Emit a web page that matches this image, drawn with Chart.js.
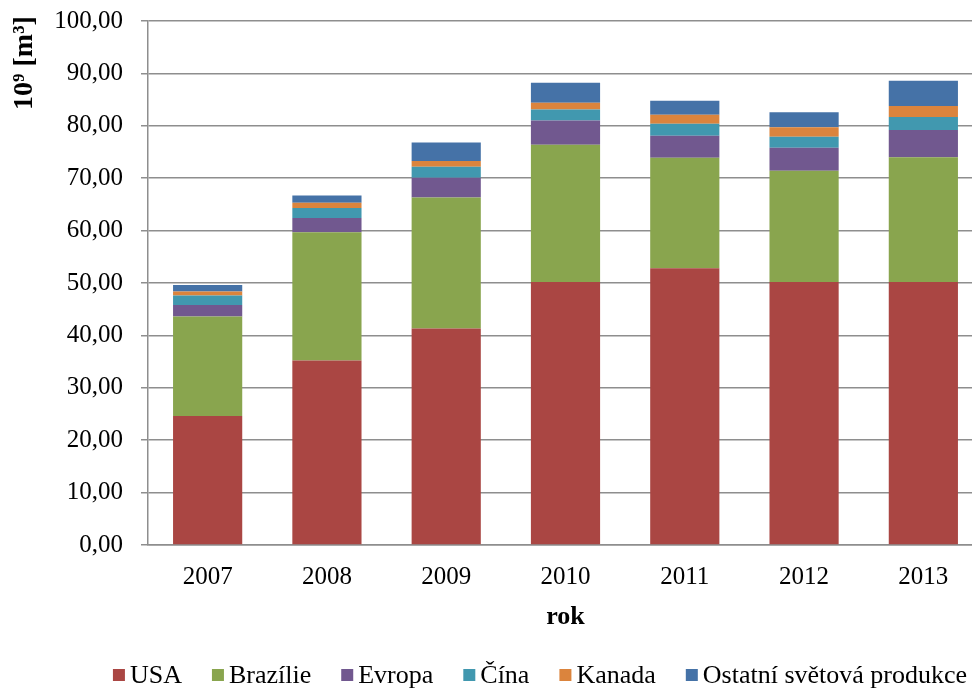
<!DOCTYPE html>
<html>
<head>
<meta charset="utf-8">
<script src="https://cdn.jsdelivr.net/npm/chart.js@4"></script>
<style>
  html, body { margin: 0; padding: 0; background: #fff; overflow: hidden; }
  #wrap { width: 1078px; height: 688px; }
</style>
</head>
<body>
<div id="wrap"><canvas id="chart" width="1078" height="688"></canvas></div>
<script>
// Values, 10^9 m3
const years   = ['2007', '2008', '2009', '2010', '2011', '2012', '2013'];
const usa     = [24.6, 35.2, 41.3, 50.2, 52.8, 50.2, 50.2];
const brazil  = [19.0, 24.5, 25.0, 26.2, 21.1, 21.2, 23.8];
const evropa  = [2.2, 2.7, 3.8, 4.6, 4.2, 4.4, 5.2];
const cina    = [1.8, 1.9, 2.1, 2.1, 2.3, 2.1, 2.5];
const kanada  = [0.8, 1.0, 1.1, 1.3, 1.7, 1.8, 2.1];
const ostatni = [1.2, 1.4, 3.5, 3.8, 2.7, 2.9, 4.8];
const yTicks  = [0, 10, 20, 30, 40, 50, 60, 70, 80, 90, 100];

const FONT = "'Liberation Serif', 'Times New Roman', serif";
const GRID = '#8e8e8e';
Chart.defaults.font.family = FONT;

// y axis title sits near the top in the original, so draw it by hand
const yTitle = {
  id: 'yTitle',
  afterDraw(chart) {
    const { ctx } = chart;
    ctx.save();
    ctx.translate(25, 63);
    ctx.rotate(-Math.PI / 2);
    ctx.font = `bold 28px ${FONT}`;
    ctx.fillStyle = '#000';
    ctx.textAlign = 'center';
    ctx.textBaseline = 'middle';
    ctx.fillText('10⁹ [m³]', 0, 0);
    ctx.restore();
  }
};

// Excel-like legend: small square, tight gap to text, wide gap between items
const legendRow = {
  id: 'legendRow',
  afterDraw(chart) {
    const { ctx } = chart;
    const sets = chart.data.datasets;
    ctx.save();
    ctx.font = `26px ${FONT}`;
    ctx.textBaseline = 'middle';
    const box = 12, gapIn = 5, gapOut = 30, cy = 675;
    const widths = sets.map(d => ctx.measureText(d.label).width);
    const total = widths.reduce((a, w) => a + w + box + gapIn, 0) + gapOut * (sets.length - 1);
    let x = 540 - total / 2;
    sets.forEach((d, i) => {
      ctx.fillStyle = d.backgroundColor;
      ctx.fillRect(x, cy - box / 2, box, box);
      ctx.fillStyle = '#000';
      ctx.fillText(d.label, x + box + gapIn, cy + 1);
      x += box + gapIn + widths[i] + gapOut;
    });
    ctx.restore();
  }
};

const mk = (label, data, color) => ({
  label, data,
  backgroundColor: color,
  borderWidth: 0,
  categoryPercentage: 1,
  barPercentage: 0.58
});

new Chart(document.getElementById('chart'), {
  type: 'bar',
  data: {
    labels: years,
    datasets: [
      mk('USA', usa, '#AA4643'),
      mk('Brazílie', brazil, '#89A54E'),
      mk('Evropa', evropa, '#71588F'),
      mk('Čína', cina, '#4198AF'),
      mk('Kanada', kanada, '#DB843D'),
      mk('Ostatní světová produkce', ostatni, '#4572A7')
    ]
  },
  options: {
    responsive: false,
    animation: false,
    layout: { padding: { top: 21, right: 95, left: 0, bottom: 43 } },
    plugins: {
      tooltip: { enabled: false },
      legend: { display: false }
    },
    scales: {
      x: {
        stacked: true,
        afterFit: (axis) => { axis.height = 100; },
        grid: { display: false, drawTicks: false },
        border: { color: GRID, width: 1.5 },
        ticks: { color: '#000', font: { size: 25 }, padding: 17 },
        title: {
          display: true, text: 'rok', color: '#000',
          font: { size: 26, weight: 'bold' },
          padding: { top: 0, bottom: 12 }
        }
      },
      y: {
        stacked: true,
        min: 0, max: 100,
        afterBuildTicks: (axis) => { axis.ticks = yTicks.map(v => ({ value: v })); },
        afterFit: (axis) => { axis.width = 148; axis.paddingTop = 0; axis.paddingBottom = 0; },
        grid: { color: GRID, lineWidth: 1.5, tickLength: 7 },
        border: { color: GRID, width: 1.5 },
        ticks: {
          color: '#000',
          font: { size: 25 },
          padding: 18,
          callback: v => v.toFixed(2).replace('.', ',')
        }
      }
    }
  },
  plugins: [yTitle, legendRow]
});
</script>
</body>
</html>
